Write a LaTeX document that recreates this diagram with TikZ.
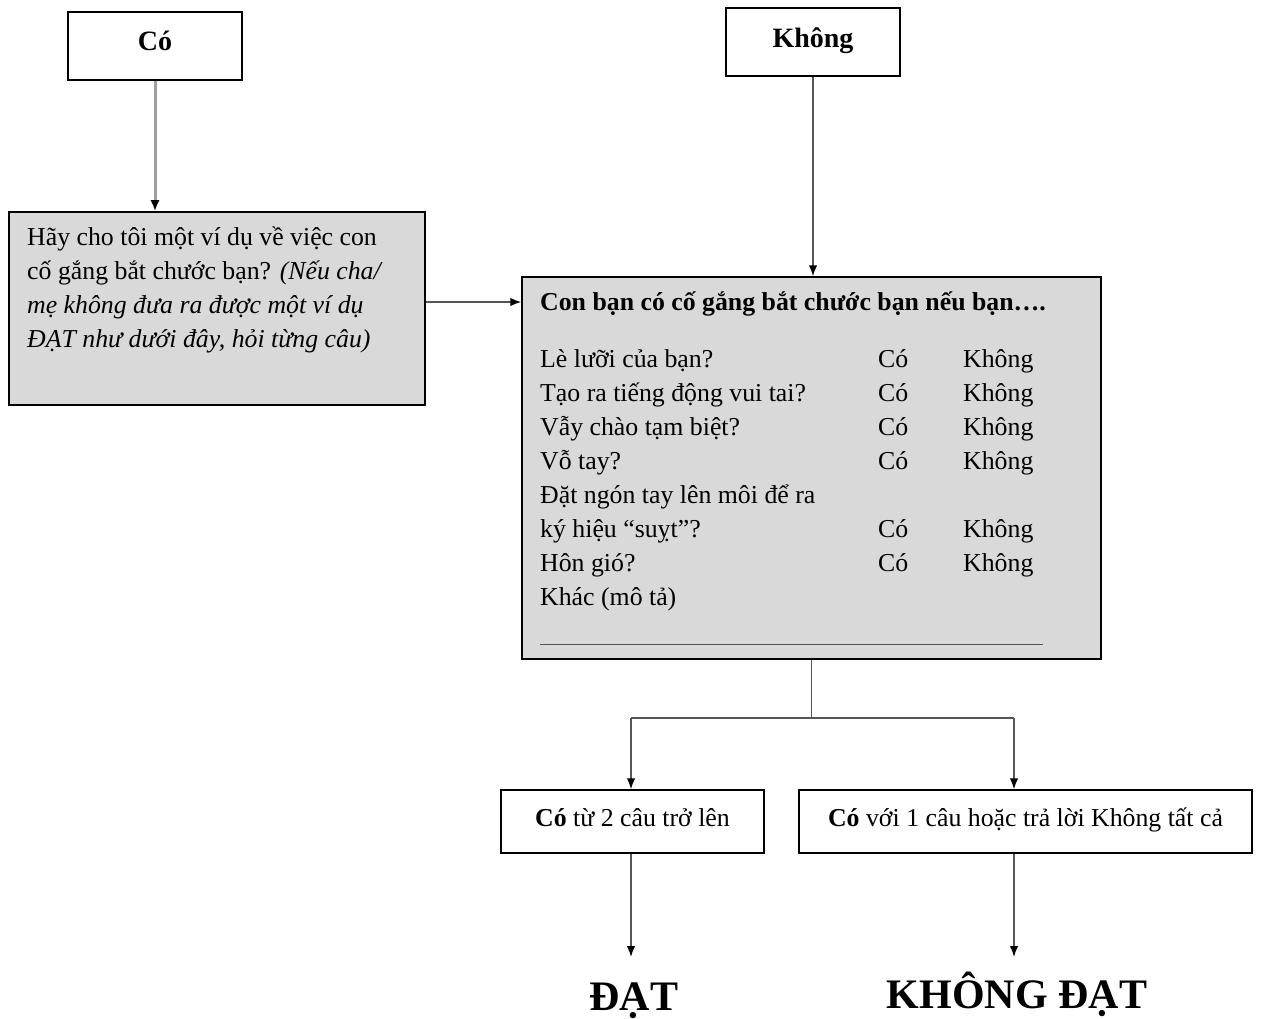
\documentclass[tikz,border=0pt]{standalone}
\usepackage{fontspec}
\setmainfont{Liberation Serif}
\usetikzlibrary{arrows.meta,calc}
\definecolor{boxgray}{HTML}{D9D9D9}
\definecolor{linegray}{HTML}{555555}
\definecolor{lightline}{HTML}{A0A0A0}
\tikzset{
  box/.style={draw=black, line width=1.5pt, inner sep=0pt},
  graybox/.style={box, fill=boxgray},
  txt/.style={font=\fontsize{25.8}{34}\selectfont, inner sep=0pt, anchor=base west},
  conn/.style={draw=linegray, line width=1.5pt},
  arr/.style={conn, -{Latex[length=11pt,width=8.5pt,color=black]}},
  toptxt/.style={font=\fontsize{28}{32}\selectfont\bfseries},
  bigtxt/.style={font=\fontsize{42}{48}\selectfont\bfseries, inner sep=0pt},
}
\begin{document}
\begin{tikzpicture}[x=1pt,y=-1pt]
\useasboundingbox (0,0) rectangle (1261,1019);
% top boxes
\node[box, minimum width=174pt, minimum height=68pt, toptxt, text depth=10pt] (co) at (155,46) {Có};
\node[box, minimum width=174pt, minimum height=68pt, toptxt, text depth=9pt] (kh) at (813,42) {Không};
% left gray box
\node[graybox, minimum width=416pt, minimum height=193pt] (left) at (217,308.5) {};
\node[txt] (l1) at (27,245) {Hãy cho tôi một ví dụ về việc con};
\node[txt] (l2) at (27,279) {cố gắng bắt chước bạn? \textit{(Nếu cha/}};
\node[txt] (l3) at (27,313) {\textit{mẹ không đưa ra được một ví dụ}};
\node[txt] (l4) at (27,347) {\textit{ĐẠT như dưới đây, hỏi từng câu)}};
% main gray box
\node[graybox, minimum width=579pt, minimum height=382pt] (main) at (811.5,468) {};
\node[txt] (title) at (540,310) {\textbf{Con bạn có cố gắng bắt chước bạn nếu bạn….}};
\node[txt] (q1) at (540,367) {Lè lưỡi của bạn?};
\node[txt] (q2) at (540,401) {Tạo ra tiếng động vui tai?};
\node[txt] (q3) at (540,435) {Vẫy chào tạm biệt?};
\node[txt] (q4) at (540,469) {Vỗ tay?};
\node[txt] (q5a) at (540,503) {Đặt ngón tay lên môi để ra};
\node[txt] (q5) at (540,537) {ký hiệu “suỵt”?};
\node[txt] (q6) at (540,571) {Hôn gió?};
\node[txt] (q7) at (540,605) {Khác (mô tả)};
\foreach \y/\n in {367/1,401/2,435/3,469/4,537/5,571/6}{
  \node[txt] (c\n) at (878,\y) {Có};
  \node[txt] (k\n) at (963,\y) {Không};
}
\draw[line width=1pt, draw=linegray] (540,644) -- (1043,644);
% result boxes
\node[box, minimum width=263pt, minimum height=63pt, font=\fontsize{25.8}{30}\selectfont, text depth=8pt] (b3) at (632.5,821.5) {\textbf{Có} từ 2 câu trở lên};
\node[box, minimum width=453pt, minimum height=63pt, font=\fontsize{25.8}{30}\selectfont, text depth=8pt] (b4) at (1025.5,821.5) {\textbf{Có} với 1 câu hoặc trả lời Không tất cả};
% final labels
\node[bigtxt, anchor=base] (dat) at (634,1010) {ĐẠT};
\node[bigtxt, anchor=base] (kdat) at (1017,1008) {KHÔNG ĐẠT};
% connectors
\draw[conn, draw=lightline, line width=3pt, -{Latex[length=11pt,width=9pt,color=black]}] (co.south) -- (co.south |- left.north);
\draw[arr] (kh.south) -- (kh.south |- main.north);
\draw[arr] ([yshift=6.5pt]left.east) -- ([yshift=6.5pt]left.east -| main.west);
\coordinate (split) at (811.5,718);
\coordinate (j3) at (631,718);
\coordinate (j4) at (1014,718);
\draw[conn] (main.south) -- (split);
\draw[conn] (j3) -- (j4);
\draw[arr] (j3) -- (j3 |- b3.north);
\draw[arr] (j4) -- (j4 |- b4.north);
\coordinate (t3) at (631,957);
\coordinate (t4) at (1014,957);
\draw[arr] (j3 |- b3.south) -- (t3);
\draw[arr] (j4 |- b4.south) -- (t4);
\end{tikzpicture}
\end{document}
